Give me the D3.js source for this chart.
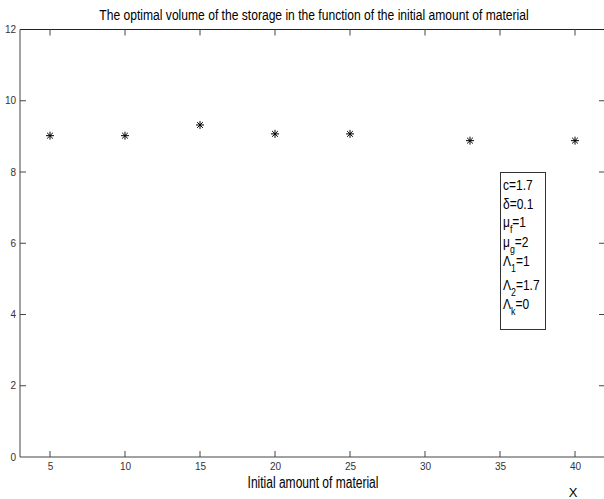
<!DOCTYPE html>
<html><head><meta charset="utf-8">
<script src="https://cdn.jsdelivr.net/npm/d3@7"></script>
<style>body{margin:0;background:#fff}svg{display:block}text{font-family:"Liberation Sans",Arial,sans-serif}</style>
</head><body>
<script>
const xValues = [5, 10, 15, 20, 25, 33, 40];
const yValues = [9.02, 9.02, 9.32, 9.07, 9.07, 8.88, 8.88];
const xTicks = [5, 10, 15, 20, 25, 30, 35, 40];
const yTicks = [0, 2, 4, 6, 8, 10, 12];
const legendLines = [["c","","=1.7"],["δ","","=0.1"],["μ","f","=1"],["μ","g","=2"],["Λ","1","=1"],["Λ","2","=1.7"],["Λ","k","=0"]];
const title = "The optimal volume of the storage in the function of the initial amount of material";
const xLabel = "Initial amount of material";

const W = 604, H = 499;
const svg = d3.select("body").append("svg").attr("width", W).attr("height", H);
const x = d3.scaleLinear().domain([3, 42]).range([20, 605]);
const y = d3.scaleLinear().domain([0, 12]).range([457, 29.5]);
const axisColor = "#444";

// frame lines
svg.append("line").attr("x1", 20).attr("x2", 605).attr("y1", y(12)).attr("y2", y(12)).attr("stroke", "#222");
svg.append("line").attr("x1", 20).attr("x2", 605).attr("y1", y(0)).attr("y2", y(0)).attr("stroke", axisColor);
svg.append("line").attr("x1", 20).attr("x2", 20).attr("y1", y(0)).attr("y2", y(12)).attr("stroke", axisColor);

// bottom axis (inward ticks)
const gx = svg.append("g").attr("transform", `translate(0,${y(0)})`)
  .call(d3.axisBottom(x).tickValues(xTicks).tickSize(0).tickPadding(6));
gx.select(".domain").remove();
gx.selectAll("text").attr("font-size", 10).attr("fill", "#333");
svg.selectAll(".xt").data(xTicks).join("line")
  .attr("x1", d => x(d)).attr("x2", d => x(d)).attr("y1", y(0)).attr("y2", y(0) - 6).attr("stroke", axisColor);
svg.selectAll(".xtt").data(xTicks).join("line")
  .attr("x1", d => x(d)).attr("x2", d => x(d)).attr("y1", y(12)).attr("y2", y(12) + 6).attr("stroke", axisColor);

// left axis
const gy = svg.append("g").attr("transform", "translate(20,0)")
  .call(d3.axisLeft(y).tickValues(yTicks).tickSize(0).tickPadding(4));
gy.select(".domain").remove();
gy.selectAll("text").attr("font-size", 10).attr("fill", "#333");
svg.selectAll(".yt").data(yTicks.filter(d => d > 0 && d < 12)).join("line")
  .attr("x1", 20).attr("x2", 26).attr("y1", d => y(d)).attr("y2", d => y(d)).attr("stroke", axisColor);
svg.selectAll(".ytr").data(yTicks.filter(d => d > 0 && d < 12)).join("line")
  .attr("x1", 599).attr("x2", 605).attr("y1", d => y(d)).attr("y2", d => y(d)).attr("stroke", axisColor);

// markers: MATLAB-style asterisk (+ and x)
const star = {
  draw(ctx, size) {
    const r = Math.sqrt(size) / 2, d = r * 0.72;
    ctx.moveTo(-r, 0); ctx.lineTo(r, 0);
    ctx.moveTo(0, -r); ctx.lineTo(0, r);
    ctx.moveTo(-d, -d); ctx.lineTo(d, d);
    ctx.moveTo(-d, d); ctx.lineTo(d, -d);
  }
};
const sym = d3.symbol(star, 64);
svg.selectAll(".pt").data(xValues.map((v, i) => [v, yValues[i]])).join("path")
  .attr("d", sym).attr("transform", d => `translate(${x(d[0])},${y(d[1])})`)
  .attr("fill", "none").attr("stroke", "#000").attr("stroke-width", 1);

// helper: text squeezed horizontally to a target width
function squeezed(str, cx, cy, size, targetW) {
  const g = svg.append("g");
  const t = g.append("text").attr("x", 0).attr("y", 0).attr("text-anchor", "middle")
    .attr("font-size", size).attr("fill", "#000").text(str);
  const w = t.node().getComputedTextLength();
  const s = Math.min(1, targetW / w);
  g.attr("transform", `translate(${cx},${cy}) scale(${s},1)`);
}
squeezed(title, 314, 20, 15, 430);
squeezed(xLabel, 313, 488, 16, 131);

svg.append("text").attr("x", 573).attr("y", 497).attr("text-anchor", "middle")
  .attr("font-size", 13).attr("fill", "#000").text("X");

// legend box
svg.append("rect").attr("x", 500.5).attr("y", 172.5).attr("width", 45).attr("height", 157)
  .attr("fill", "#fff").attr("stroke", "#333");
const lineY = [190, 209, 227, 247, 266, 290, 309];
const lg = svg.append("g").attr("transform", "translate(503,0) scale(0.8,1)");
legendLines.forEach((l, i) => {
  const t = lg.append("text").attr("x", 0).attr("y", lineY[i]).attr("font-size", 15).attr("fill", "#000");
  t.append("tspan").text(l[0]);
  if (l[1]) t.append("tspan").attr("font-size", 11).attr("dy", 6).text(l[1]);
  t.append("tspan").attr("dy", l[1] ? -6 : 0).text(l[2]);
});
</script>
</body></html>
